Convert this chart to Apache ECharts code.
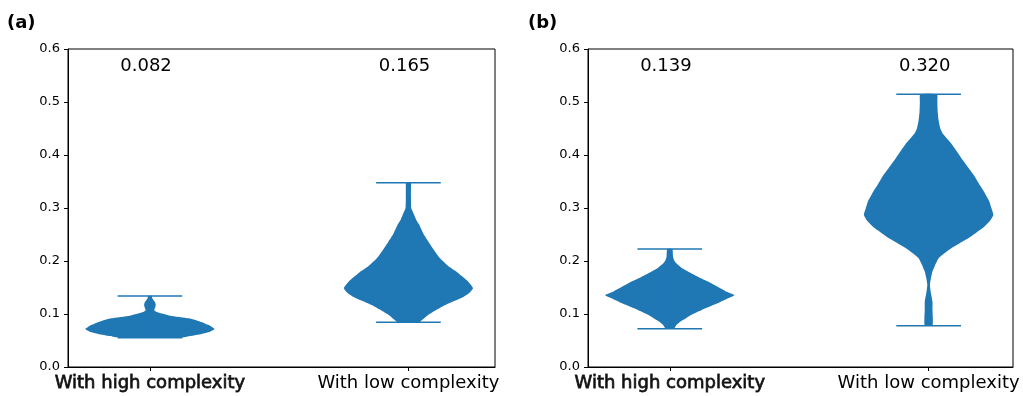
<!DOCTYPE html>
<html>
<head>
<meta charset="utf-8">
<script src="https://cdn.jsdelivr.net/npm/echarts@6/dist/echarts.min.js"></script>
<style>html,body{margin:0;padding:0;background:#fff}#main{width:1023px;height:396px}</style>
</head>
<body>
<div id="main"></div>
<script>
var categories = ['With high complexity', 'With low complexity'];
var positions = [1, 2];
var medianA = ['0.082', '0.165'];
var medianB = ['0.139', '0.320'];
var labelPos = [0.985, 1.985];
var labelY = 0.568;

// violin outlines: value / relative half width (1 = widest)
var aHighY = [0.0553, 0.0585, 0.0625, 0.0667, 0.0717, 0.0755, 0.0792, 0.0855, 0.0918, 0.0969, 0.1013, 0.1045, 0.1075, 0.112, 0.117, 0.122, 0.1296, 0.134];
var aHighW = [0.48, 0.62, 0.80, 0.93, 1.00, 0.96, 0.91, 0.78, 0.60, 0.31, 0.17, 0.09, 0.065, 0.08, 0.09, 0.08, 0.035, 0.03];
var aLowY = [0.0843, 0.0887, 0.095, 0.101, 0.109, 0.117, 0.125, 0.1327, 0.1405, 0.1485, 0.156, 0.164, 0.172, 0.18, 0.19, 0.205, 0.22, 0.2365, 0.252, 0.268, 0.278, 0.2868, 0.2994, 0.32, 0.343, 0.3478];
var aLowW = [0.17, 0.21, 0.27, 0.34, 0.45, 0.57, 0.72, 0.86, 0.95, 1.00, 0.96, 0.90, 0.82, 0.74, 0.62, 0.49, 0.40, 0.31, 0.23, 0.17, 0.12, 0.09, 0.045, 0.04, 0.04, 0.04];
var bHighY = [0.0723, 0.0749, 0.080, 0.0855, 0.092, 0.098, 0.1045, 0.1107, 0.117, 0.1232, 0.1295, 0.1358, 0.142, 0.1515, 0.158, 0.164, 0.170, 0.1768, 0.1815, 0.1862, 0.1957, 0.202, 0.208, 0.2226];
var bHighW = [0.07, 0.08, 0.11, 0.16, 0.25, 0.33, 0.44, 0.55, 0.67, 0.79, 0.90, 1.00, 0.88, 0.74, 0.64, 0.54, 0.44, 0.33, 0.26, 0.19, 0.10, 0.065, 0.05, 0.04];
var bLowY = [0.078, 0.092, 0.108, 0.1232, 0.14, 0.1547, 0.167, 0.18, 0.192, 0.205, 0.214, 0.224, 0.2335, 0.2428, 0.254, 0.2648, 0.276, 0.2868, 0.30, 0.3119, 0.328, 0.3434, 0.36, 0.3749, 0.39, 0.4063, 0.42, 0.4315, 0.442, 0.4503, 0.465, 0.4817, 0.50, 0.5145];
var bLowW = [0.06, 0.065, 0.06, 0.06, 0.035, 0.02, 0.035, 0.06, 0.10, 0.155, 0.24, 0.35, 0.48, 0.61, 0.74, 0.86, 0.95, 1.00, 0.97, 0.94, 0.87, 0.79, 0.71, 0.62, 0.53, 0.44, 0.36, 0.28, 0.21, 0.18, 0.155, 0.14, 0.135, 0.13];

var C0 = '#1f77b4';
var FONT = 'DejaVu Sans';

function violinItem(profiles){
	return function(params, api){
		var p = profiles[params.dataIndex];
		var pos = api.value(0);
		var half = api.size([0.25, 0])[0];
		var right = [], left = [];
		for (var i = 0; i < p.y.length; i++) {
			var c = api.coord([pos, p.y[i]]);
			right.push([c[0] + half * p.w[i], c[1]]);
			left.unshift([c[0] - half * p.w[i], c[1]]);
		}
		var lo = api.coord([pos, p.y[0]]);
		var hi = api.coord([pos, p.y[p.y.length - 1]]);
		var cap = half * 0.5;
		var ls = {stroke: C0, lineWidth: 1.5};
		return {type: 'group', children: [
			{type: 'polygon', shape: {points: right.concat(left), smooth: 0.15}, style: {fill: C0}},
			{type: 'line', shape: {x1: lo[0], y1: lo[1], x2: hi[0], y2: hi[1]}, style: ls},
			{type: 'line', shape: {x1: lo[0] - cap, y1: lo[1], x2: lo[0] + cap, y2: lo[1]}, style: ls},
			{type: 'line', shape: {x1: hi[0] - cap, y1: hi[1], x2: hi[0] + cap, y2: hi[1]}, style: ls}
		]};
	};
}

function textItem(texts){
	return function(params, api){
		var c = api.coord([api.value(0), api.value(1)]);
		return {type: 'text', x: c[0], y: c[1], style: {
			text: texts[params.dataIndex], fill: '#000', fontSize: 18, fontFamily: FONT,
			align: 'center', verticalAlign: 'middle'
		}};
	};
}

function xAxisFor(idx, mn, mx){
	return {
		gridIndex: idx, type: 'value', min: mn, max: mx,
		splitLine: {show: false},
		axisLine: {show: true, onZero: false, lineStyle: {color: '#000', width: 1}},
		axisTick: {show: true, customValues: positions, length: 4, lineStyle: {color: '#000'}},
		axisLabel: {
			customValues: positions, margin: 7, fontSize: 18, fontFamily: FONT, color: '#000',
			formatter: function(v){
				if (v < 1.5) return '{h|' + categories[0] + '}';
				return categories[1];
			},
			rich: {h: {fontSize: 18, fontFamily: FONT, color: '#111', textBorderColor: '#333', textBorderWidth: 0.8}}
		}
	};
}

function yAxisFor(idx){
	return {
		gridIndex: idx, type: 'value', min: 0, max: 0.6, interval: 0.1,
		splitLine: {show: false},
		axisLine: {show: true, lineStyle: {color: '#000', width: 1}},
		axisTick: {show: true, length: 4, lineStyle: {color: '#000'}},
		axisLabel: {margin: 8, fontSize: 13, fontFamily: FONT, color: '#000',
			formatter: function(v){ return v.toFixed(1); }}
	};
}

var myChart = echarts.init(document.getElementById('main'));
var option = {
	animation: false,
	backgroundColor: '#fff',
	title: [
		{text: '(a)', left: 7, top: 14, padding: 0, textStyle: {fontSize: 18, fontWeight: 'bold', fontFamily: FONT, color: '#000'}},
		{text: '(b)', left: 528, top: 14, padding: 0, textStyle: {fontSize: 18, fontWeight: 'bold', fontFamily: FONT, color: '#000'}}
	],
	grid: [
		{left: 68, top: 49, width: 427, height: 318, show: true, borderColor: '#000', borderWidth: 1},
		{left: 588, top: 49, width: 425, height: 318, show: true, borderColor: '#000', borderWidth: 1}
	],
	xAxis: [xAxisFor(0, 0.683, 2.335), xAxisFor(1, 0.684, 2.326)],
	yAxis: [yAxisFor(0), yAxisFor(1)],
	series: [
		{type: 'custom', xAxisIndex: 0, yAxisIndex: 0, encode: {x: 0, y: 1},
			renderItem: violinItem([{y: aHighY, w: aHighW}, {y: aLowY, w: aLowW}]),
			data: [[positions[0], aHighY[0]], [positions[1], aLowY[0]]]},
		{type: 'custom', xAxisIndex: 1, yAxisIndex: 1, encode: {x: 0, y: 1},
			renderItem: violinItem([{y: bHighY, w: bHighW}, {y: bLowY, w: bLowW}]),
			data: [[positions[0], bHighY[0]], [positions[1], bLowY[0]]]},
		{type: 'custom', xAxisIndex: 0, yAxisIndex: 0, encode: {x: 0, y: 1},
			renderItem: textItem(medianA),
			data: [[labelPos[0], labelY], [labelPos[1], labelY]]},
		{type: 'custom', xAxisIndex: 1, yAxisIndex: 1, encode: {x: 0, y: 1},
			renderItem: textItem(medianB),
			data: [[labelPos[0], labelY], [labelPos[1], labelY]]}
	]
};
myChart.setOption(option);
window.onresize = function(){ myChart.resize(); };
</script>
</body>
</html>
